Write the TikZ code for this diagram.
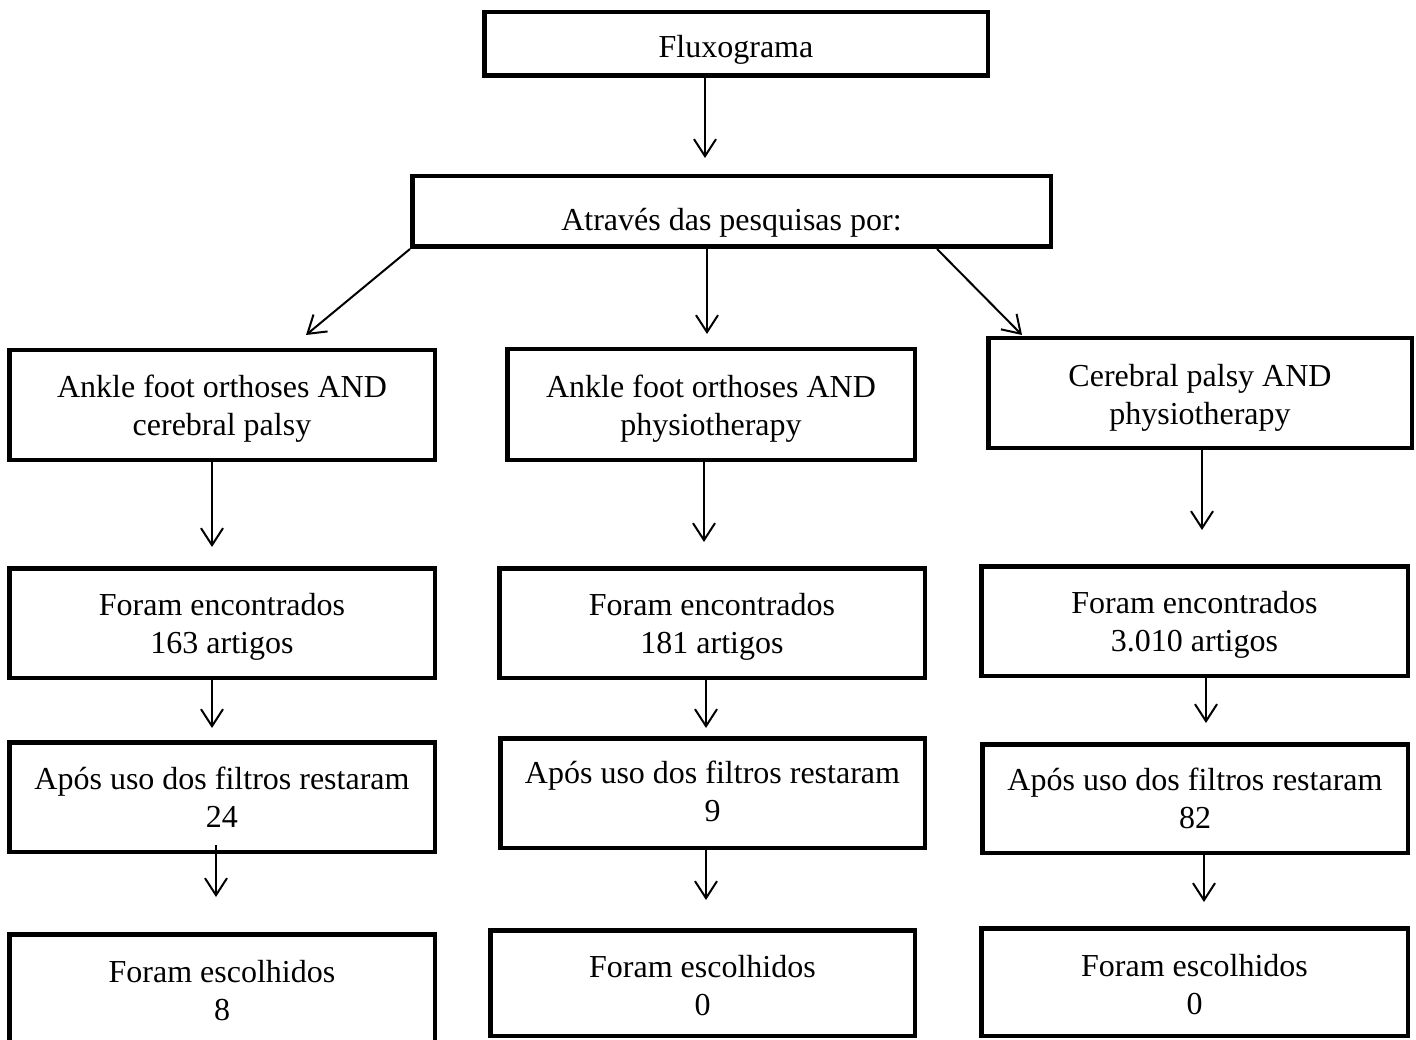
\documentclass[tikz,border=0pt]{standalone}
\usepackage{fontspec}
\setmainfont{Liberation Serif}
\usetikzlibrary{arrows.meta,calc}
\newcommand\mybox[5]{\node[box, minimum width={(#4)-(#2)-4.5}, minimum height={(#5)-(#3)-4.5}] (#1) at ({((#2)+(#4))/2},{((#3)+(#5))/2}) {};}
\begin{document}
\begin{tikzpicture}[x=1pt,y=-1pt,
  box/.style={draw, line width=4.5pt, inner sep=0pt},
  txt/.style={anchor=north, align=center, inner sep=0pt, font=\fontsize{32}{38}\selectfont},
  arr/.style={line width=2pt, -{Straight Barb[length=17pt,width=22pt]}}]
\useasboundingbox (0,0) rectangle (1416,1040);
\clip (0,0) rectangle (1416,1040);
% boxes
\mybox{flux}{482}{10}{990}{78}
\mybox{atrav}{410}{174}{1053}{249}
\mybox{a1}{7}{348}{437}{462}
\mybox{a2}{505}{347}{917}{462}
\mybox{a3}{986}{336}{1414}{450}
\mybox{b1}{7}{566}{437}{680}
\mybox{b2}{497}{566}{927}{680}
\mybox{b3}{979}{564}{1410}{678}
\mybox{c1}{7}{740}{437}{854}
\mybox{c2}{498}{736}{927}{850}
\mybox{c3}{980}{742}{1410}{855}
\mybox{d1}{7}{932}{437}{1070}
\mybox{d2}{488}{928}{917}{1038}
\mybox{d3}{979}{926}{1410}{1038}
% texts
\node[txt] (tflux) at (736,35) {Fluxograma};
\node[txt] (tatrav) at (731.5,208) {Através das pesquisas por:};
\node[txt] (ta1) at (222,375) {Ankle foot orthoses AND\\cerebral palsy};
\node[txt] (ta2) at (711,375) {Ankle foot orthoses AND\\physiotherapy};
\node[txt] (ta3) at (1200,364) {Cerebral palsy AND\\physiotherapy};
\node[txt] (tb1) at (222,593) {Foram encontrados\\163 artigos};
\node[txt] (tb2) at (712,593) {Foram encontrados\\181 artigos};
\node[txt] (tb3) at (1194.5,591) {Foram encontrados\\3.010 artigos};
\node[txt] (tc1) at (222,767) {Após uso dos filtros restaram\\24};
\node[txt] (tc2) at (712.5,761) {Após uso dos filtros restaram\\9};
\node[txt] (tc3) at (1195,768) {Após uso dos filtros restaram\\82};
\node[txt] (td1) at (222,960) {Foram escolhidos\\8};
\node[txt] (td2) at (702.5,955) {Foram escolhidos\\0};
\node[txt] (td3) at (1194.5,954) {Foram escolhidos\\0};
% free ends of connectors
\coordinate (e1) at (705,158);
\coordinate (e2) at (306,335);
\coordinate (e3) at (707,334);
\coordinate (s4) at (937,0);
\coordinate (e4) at (1022,335);
\coordinate (e5) at (212,547);
\coordinate (e6) at (704,542);
\coordinate (e7) at (1202,530);
\coordinate (e8) at (212,728);
\coordinate (e9) at (706,728);
\coordinate (e10) at (1206,723);
\coordinate (s11) at (216,845);
\coordinate (e11) at (216,897);
\coordinate (e12) at (706,900);
\coordinate (e13) at (1204,902);
% connectors
\draw[arr] (e1 |- flux.south) -- (e1);
\draw[arr] (atrav.south west) -- (e2);
\draw[arr] (e3 |- atrav.south) -- (e3);
\draw[arr] (s4 |- atrav.south) -- (e4);
\draw[arr] (e5 |- a1.south) -- (e5);
\draw[arr] (e6 |- a2.south) -- (e6);
\draw[arr] (e7 |- a3.south) -- (e7);
\draw[arr] (e8 |- b1.south) -- (e8);
\draw[arr] (e9 |- b2.south) -- (e9);
\draw[arr] (e10 |- b3.south) -- (e10);
\draw[arr] (s11) -- (e11);
\draw[arr] (e12 |- c2.south) -- (e12);
\draw[arr] (e13 |- c3.south) -- (e13);
\end{tikzpicture}
\end{document}
